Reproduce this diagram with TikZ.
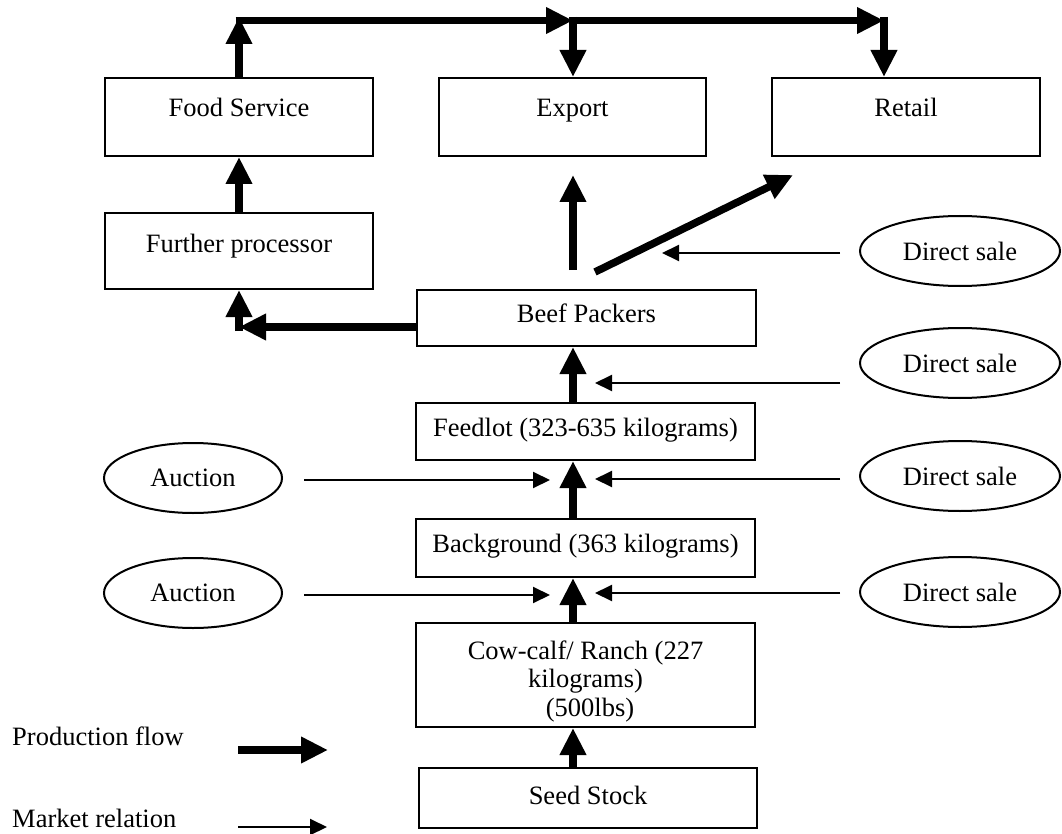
\documentclass[tikz,border=0pt]{standalone}
\usepackage{fontspec}
\setmainfont{Liberation Serif}
\usetikzlibrary{arrows.meta,shapes.geometric}
\begin{document}
\begin{tikzpicture}[x=1pt,y=-1pt,
  font=\fontsize{26.5pt}{28.5pt}\selectfont,
  box/.style={draw, rectangle, line width=2pt, inner sep=0pt},
  oval/.style={draw, ellipse, line width=2pt, inner sep=0pt, minimum height=70pt},
  txt/.style={anchor=base, inner sep=0pt},
  prod/.style={line width=7.5pt, -{Triangle[width=25pt,length=27pt]}},
  mkt/.style={line width=2pt, -{Triangle[width=16pt,length=17pt]}}]
\useasboundingbox (0,0) rectangle (1062,834);

% ---- boxes ----
\node[box, minimum width=268pt, minimum height=78pt]  (fs) at (239,117)   {};
\node[box, minimum width=267pt, minimum height=78pt]  (ex) at (572.5,117) {};
\node[box, minimum width=268pt, minimum height=78pt]  (rt) at (906,117)   {};
\node[box, minimum width=268pt, minimum height=76pt]  (fp) at (239,251)   {};
\node[box, minimum width=339pt, minimum height=56pt]  (bp) at (586.5,318) {};
\node[box, minimum width=339pt, minimum height=57pt]  (fl) at (585.5,431.5) {};
\node[box, minimum width=339pt, minimum height=58pt]  (bg) at (585.5,548) {};
\node[box, minimum width=339pt, minimum height=104pt] (cc) at (585.5,675) {};
\node[box, minimum width=338pt, minimum height=60pt]  (ss) at (588,798)   {};

% ---- box texts ----
\node[txt] (fsT) at ([yshift=-40pt]fs.north) {Food Service};
\node[txt] (exT) at ([yshift=-40pt]ex.north) {Export};
\node[txt] (rtT) at ([yshift=-40pt]rt.north) {Retail};
\node[txt] (fpT) at ([yshift=-41pt]fp.north) {Further processor};
\node[txt] (bpT) at ([yshift=-33pt]bp.north) {Beef Packers};
\node[txt] (flT) at ([yshift=-34pt]fl.north) {Feedlot (323-635 kilograms)};
\node[txt] (bgT) at ([yshift=-34pt]bg.north) {Background (363 kilograms)};
\node[txt] (ccT1) at (585.5,659) {Cow-calf/ Ranch (227};
\node[txt] (ccT2) at (585.5,687) {kilograms)};
\node[txt] (ccT3) at (590,716)   {(500lbs)};
\node[txt] (ssT) at ([yshift=-37pt]ss.north) {Seed Stock};

% ---- ovals ----
\node[oval, minimum width=178pt] (au1) at (193,478) {Auction};
\node[oval, minimum width=178pt] (au2) at (193,593) {Auction};
\node[oval, minimum width=200pt] (ds1) at (960,251) {Direct sale};
\node[oval, minimum width=200pt] (ds2) at (960,363) {Direct sale};
\node[oval, minimum width=200pt] (ds3) at (960,476) {Direct sale};
\node[oval, minimum width=200pt] (ds4) at (960,592) {Direct sale};

% ---- production flow ----
\coordinate (sp) at (573,0);
\coordinate (rowTop) at (0,17);
\coordinate (jF) at (235.5,20.5);
\coordinate (jE) at (573,20.5);
\coordinate (jR) at (884,20.5);
\draw[prod] (fs.north) -- (fs.north |- rowTop);
\draw[prod] (jF) -- (jE);
\draw[prod] (jE) -- (jR);
\draw[prod] (jE |- rowTop) -- (jE |- ex.north);
\draw[prod] (jR |- rowTop) -- (jR |- rt.north);

\draw[prod] (fp.north) -- (fs.south);

\coordinate (rowBP) at (0,327);
\coordinate (cornerBP) at (239,331);
\draw[prod] (bp.west |- rowBP) -- (fp.south |- rowBP);
\draw[prod] (cornerBP) -- (fp.south);

\coordinate (bpE0) at (573,270);
\coordinate (bpE1) at (573,175);
\draw[prod] (bpE0) -- (bpE1);
\coordinate (bpR0) at (595,272);
\coordinate (bpR1) at (793,175);
\draw[prod] (bpR0) -- (bpR1);

\draw[prod] (fl.north -| sp) -- (bp.south -| sp);
\draw[prod] (bg.north -| sp) -- (fl.south -| sp);
\draw[prod] (cc.north -| sp) -- (bg.south -| sp);
\draw[prod] (ss.north -| sp) -- (cc.south -| sp);

% ---- market relations ----
\coordinate (m1a) at (840,253); \coordinate (m1b) at (662,253);
\coordinate (m2a) at (840,383); \coordinate (m2b) at (595,383);
\coordinate (m3a) at (840,479); \coordinate (m3b) at (595,479);
\coordinate (m4a) at (840,593); \coordinate (m4b) at (595,593);
\coordinate (a1a) at (304,480); \coordinate (a1b) at (550,480);
\coordinate (a2a) at (304,595); \coordinate (a2b) at (550,595);
\draw[mkt] (m1a) -- (m1b);
\draw[mkt] (m2a) -- (m2b);
\draw[mkt] (m3a) -- (m3b);
\draw[mkt] (m4a) -- (m4b);
\draw[mkt] (a1a) -- (a1b);
\draw[mkt] (a2a) -- (a2b);

% ---- legend ----
\node[txt, anchor=base west] (lgP) at (12,745) {Production flow};
\node[txt, anchor=base west] (lgM) at (12,827) {Market relation};
\coordinate (lgP0) at (238,750); \coordinate (lgP1) at (328,750);
\coordinate (lgM0) at (238,827); \coordinate (lgM1) at (327,827);
\draw[prod] (lgP0) -- (lgP1);
\draw[mkt] (lgM0) -- (lgM1);
\end{tikzpicture}
\end{document}
